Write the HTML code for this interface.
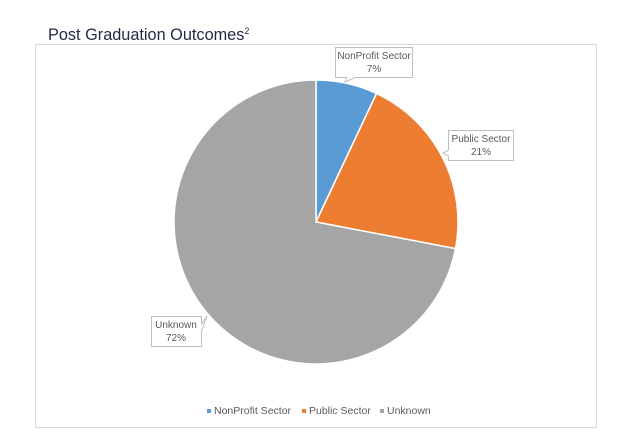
<!DOCTYPE html>
<html><head><style>
body{margin:0;background:#fff;width:628px;height:430px;overflow:hidden}
</style></head><body>
<svg width="628" height="430" viewBox="0 0 628 430" xmlns="http://www.w3.org/2000/svg" font-family="Liberation Sans, sans-serif">
<text x="48" y="40" font-size="16.3" fill="#1f2a44">Post Graduation Outcomes<tspan font-size="9" dy="-6">2</tspan></text>
<rect x="35.5" y="44.5" width="561" height="383" fill="#fff" stroke="#d9d9d9"/>
<g stroke="#fff" stroke-width="1.5">
<path d="M316,222 L316,80 A142,142 0 0 1 376.5,93.5 Z" fill="#5b9bd5"/>
<path d="M316,222 L376.5,93.5 A142,142 0 0 1 455.5,248.6 Z" fill="#ed7d31"/>
<path d="M316,222 L455.5,248.6 A142,142 0 1 1 316,80 Z" fill="#a5a5a5"/>
</g>
<g fill="#fff" stroke="#bfbfbf" font-size="10" text-anchor="middle">
<path d="M335.5,47.5 H412.5 V77.5 H355 L345,82 L347,77.5 H335.5 Z"/>
<path d="M448.5,130.5 H513.5 V160.5 H448.5 V156 L443,153 L448.5,150 Z"/>
<path d="M151.5,316.5 H201.5 V324 L207,316 L201.5,331 V346.5 H151.5 Z"/>
</g>
<g fill="#595959" font-size="10" text-anchor="middle">
<text x="374" y="59">NonProfit Sector</text><text x="374" y="72">7%</text>
<text x="481" y="142">Public Sector</text><text x="481" y="155">21%</text>
<text x="176" y="328">Unknown</text><text x="176" y="341">72%</text>
</g>
<g font-size="10.5" fill="#595959">
<rect x="207" y="409" width="4" height="4" fill="#5b9bd5"/><text x="214" y="414">NonProfit Sector</text>
<rect x="302" y="409" width="4" height="4" fill="#ed7d31"/><text x="309" y="414">Public Sector</text>
<rect x="380" y="409" width="4" height="4" fill="#a5a5a5"/><text x="387" y="414">Unknown</text>
</g>
</svg>
</body></html>
